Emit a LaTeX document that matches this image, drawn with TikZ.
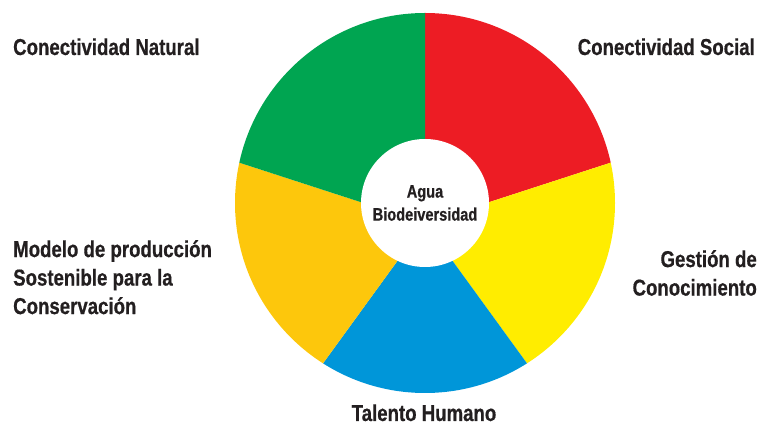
\documentclass[tikz,border=0pt]{standalone}
\usepackage{fontspec}
\setmainfont{Liberation Sans}[FakeStretch=0.81, BoldFeatures={FakeBold=0.6}]
\usepackage{xcolor}
\usetikzlibrary{calc}
\definecolor{txt}{HTML}{231F20}
\definecolor{rojo}{HTML}{ED1C24}
\definecolor{amarillo}{HTML}{FFED00}
\definecolor{azul}{HTML}{0096D9}
\definecolor{oro}{HTML}{FDC70C}
\definecolor{verde}{HTML}{00A551}
\tikzset{
  lbl/.style={font=\fontsize{23}{28.5}\selectfont\bfseries, text=txt, inner sep=0pt},
  hub/.style={circle, fill=white, minimum size=128pt, inner sep=0pt, align=center,
    font=\fontsize{18}{23}\selectfont\bfseries, text=txt}
}
\newcommand{\Wedge}[3]{% color, start angle, end angle
  \fill[#1] (apex) -- +(#2:260) arc[start angle=#2, end angle=#3, radius=260] -- cycle;
}

\begin{document}
\begin{tikzpicture}[x=1pt,y=1pt]
  \useasboundingbox (0,0) rectangle (760,425);
  \coordinate (c) at (425,222);
  \coordinate (apex) at (425,202);
  \begin{scope}
    \clip (c) circle (190);
    \Wedge{rojo}{90}{18}
    \Wedge{amarillo}{18}{-54}
    \Wedge{azul}{-54}{-126}
    \Wedge{oro}{-126}{-198}
    \Wedge{verde}{162}{90}
  \end{scope}
  \node[hub] (hub) at (c) {Agua\\Biodeiversidad};
  \node[lbl, anchor=base west] (natural) at (13,370) {Conectividad Natural};
  \node[lbl, anchor=base east] (social) at (755,370) {Conectividad Social};
  \node[lbl, anchor=north west, align=left] (modelo) at (13,185)
    {Modelo de producción\\Sostenible para la\\Conservación};
  \node[lbl, anchor=north east, align=right] (gestion) at (757,175)
    {Gestión de\\Conocimiento};
  \node[lbl, anchor=base] (talento) at (424,4) {Talento Humano};
\end{tikzpicture}
\end{document}
